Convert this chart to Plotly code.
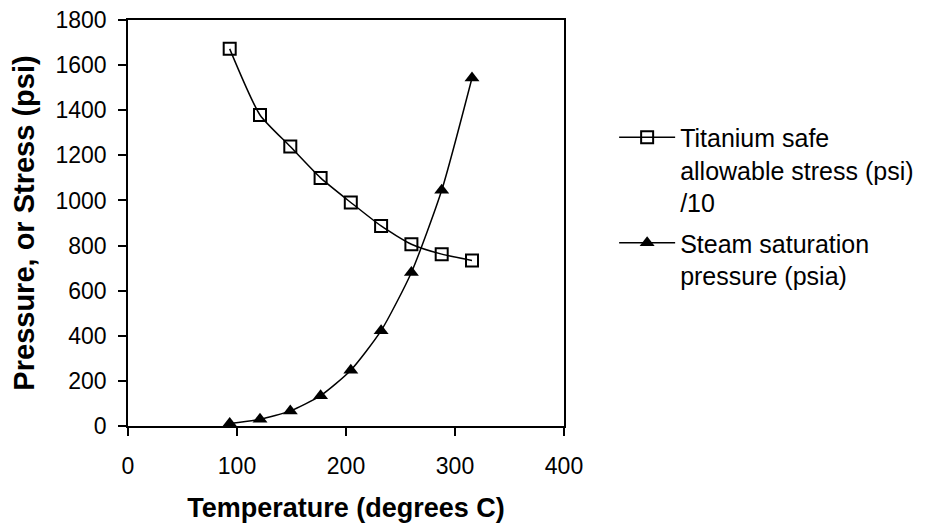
import plotly.graph_objects as go

temps_c = [93.3, 121.1, 148.9, 176.7, 204.4, 232.2, 260.0, 287.8, 315.6]
titanium_stress = [1672, 1379, 1239, 1100, 991, 887, 806, 762, 734]
steam_pressure = [11.5, 29.8, 67.0, 134.6, 247.3, 422.6, 680.8, 1045, 1543]

x_ticks = [0, 100, 200, 300, 400]
y_ticks = [0, 200, 400, 600, 800, 1000, 1200, 1400, 1600, 1800]

name_ti = "Titanium safe<br>allowable stress (psi)<br>/10"
name_st = "Steam saturation<br>pressure (psia)"

FONT = "Liberation Sans, Arial, sans-serif"

fig = go.Figure()
fig.add_trace(go.Scatter(
    x=temps_c, y=titanium_stress, name=name_ti, mode="lines+markers",
    legendgroup="ti",
    line=dict(color="black", width=1.5, shape="spline", smoothing=0.6),
    marker=dict(symbol="square-open", size=12, color="black", line=dict(width=2, color="black")),
))
fig.add_trace(go.Scatter(
    x=temps_c, y=steam_pressure, name=name_st, mode="lines+markers",
    legendgroup="st",
    line=dict(color="black", width=1.5, shape="spline", smoothing=0.6),
    marker=dict(symbol="triangle-up", size=13, color="black"),
))

fig.update_layout(
    width=919, height=521,
    margin=dict(l=120, r=363, t=12, b=103, autoexpand=False),
    paper_bgcolor="white", plot_bgcolor="white",
    font=dict(family=FONT, size=23, color="black"),
    showlegend=True,
    legend=dict(
        x=1.115, y=0.767, xanchor="left", yanchor="top",
        font=dict(family=FONT, size=25, color="black"),
        valign="top", itemwidth=56, traceorder="grouped", tracegroupgap=5,
        bgcolor="rgba(0,0,0,0)",
    ),
)
fig.update_xaxes(
    range=[0, 400], tickvals=x_ticks, ticktext=[str(v) for v in x_ticks],
    showgrid=False, zeroline=False, showline=True, linecolor="black", linewidth=1.5,
    mirror=True, ticks="outside", ticklen=8, tickwidth=1.5, tickcolor="black",
    ticklabelstandoff=11, automargin=False, ticklabeloverflow="allow",
    tickfont=dict(family=FONT, size=23),
    title=dict(text="<b>Temperature (degrees C)</b>", font=dict(family=FONT, size=27), standoff=20),
)
fig.update_yaxes(
    range=[0, 1800], tickvals=y_ticks, ticktext=[str(v) for v in y_ticks],
    showgrid=False, zeroline=False, showline=True, linecolor="black", linewidth=1.5,
    mirror=True, ticks="outside", ticklen=8, tickwidth=1.5, tickcolor="black",
    ticklabelstandoff=7, automargin=False, ticklabeloverflow="allow",
    tickfont=dict(family=FONT, size=23),
    title=dict(text="<b>Pressure, or Stress (psi)</b>", font=dict(family=FONT, size=29), standoff=21),
)

fig.write_html("out.html")
